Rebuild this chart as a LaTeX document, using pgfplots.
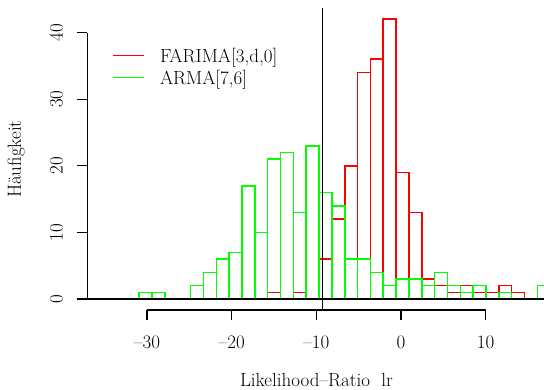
\documentclass[border=0pt]{standalone}
\usepackage{pgfplots}
\pgfplotsset{compat=1.18}
\definecolor{rred}{RGB}{255,0,0}
\definecolor{rgreen}{RGB}{0,255,0}
\begin{document}
\begin{tikzpicture}[font=\fontsize{19}{22}\selectfont]
\begin{axis}[
  anchor=origin, at={(0pt,0pt)},
  x=8.4675pt, y=6.66pt,
  xmin=-37.05, xmax=17.09, ymin=-1.65, ymax=43.65,
  clip=false,
  axis x line*=bottom, axis y line*=left,
  axis line style={draw=none},
  xtick={-30,-20,-10,0,10},
  xticklabels={\textendash30,\textendash20,\textendash10,0,10},
  ytick={0,10,20,30,40},
  yticklabels={0,10,20,30,40},
  tick align=outside,
  major tick length=10.3pt,
  tick style={black, line width=1.2pt},
  tick label style={font=\fontsize{19}{22}\selectfont},
  xticklabel style={anchor=base},
  xticklabel shift=27.8pt,
  yticklabel style={rotate=90, anchor=base},
  yticklabel shift=14.3pt,
  xlabel={Likelihood\textendash Ratio\hspace{0.6em}lr},
  ylabel={Häufigkeit},
  xlabel style={at={([yshift=-76.5pt]axis description cs:0.5,0)}, anchor=base, inner sep=0pt},
  ylabel style={at={([xshift=-66.3pt]axis description cs:0,0.5)}, anchor=base},
  legend image code/.code={\draw[#1, line width=1.6pt] (0pt,6.9pt) -- (31.6pt,6.9pt);},
  legend style={draw=none, fill=none, inner sep=0pt, outer sep=0pt,
    at={(axis cs:-34.15,37.61)}, anchor=north west,
    row sep=0pt, column sep=15pt,
    nodes={inner sep=0pt, text height=14pt, text depth=7.8pt},
    cells={anchor=base west},
    font=\fontsize{19}{22}\selectfont},
]
% red series (FARIMA[3,d,0])
\addplot[ybar interval, draw=rred, fill=none, line width=1.6pt, forget plot] coordinates {
  (-15.742,1) (-14.226,0)};
\addplot[ybar interval, draw=rred, fill=none, line width=1.6pt, forget plot] coordinates {
  (-12.709,1) (-11.193,0)};
\addplot[ybar interval, draw=rred, fill=none, line width=1.6pt, forget plot] coordinates {
  (-9.676,6) (-8.160,12) (-6.644,20) (-5.127,34) (-3.611,36) (-2.094,42)
  (-0.578,19) (0.938,13) (2.455,3) (3.971,2) (5.488,1) (7.004,2) (8.520,1)
  (10.037,1) (11.553,2) (13.070,1) (14.586,0)};
% green series (ARMA[7,6])
\addplot[ybar interval, draw=rgreen, fill=none, line width=1.6pt, forget plot] coordinates {
  (-30.906,1) (-29.390,1) (-27.873,0)};
\addplot[ybar interval, draw=rgreen, fill=none, line width=1.6pt, forget plot] coordinates {
  (-24.840,2) (-23.324,4) (-21.808,6) (-20.291,7) (-18.775,17) (-17.258,10)
  (-15.742,21) (-14.226,22) (-12.709,13) (-11.193,23) (-9.676,16) (-8.160,14)
  (-6.644,6) (-5.127,6) (-3.611,4) (-2.094,2) (-0.578,3) (0.938,3) (2.455,2)
  (3.971,4) (5.488,2) (7.004,1) (8.520,2) (10.037,0)};
\addplot[ybar interval, draw=rgreen, fill=none, line width=1.6pt, forget plot] coordinates {
  (11.553,1) (13.070,0)};
\addplot[ybar interval, draw=rgreen, fill=none, line width=1.6pt, forget plot] coordinates {
  (16.102,2) (17.619,0)};
% reference lines and R-style axis segments
\addplot[black, line width=1.2pt, forget plot] coordinates {(-37.05,0) (17.09,0)};
\addplot[black, line width=1.2pt, forget plot] coordinates {(-9.25,-1.65) (-9.25,43.65)};
\addplot[black, line width=1.2pt, forget plot] coordinates {(-30,-1.65) (10,-1.65)};
\addplot[black, line width=1.2pt, forget plot] coordinates {(-37.05,0) (-37.05,40)};
\addlegendimage{rred}
\addlegendentry{FARIMA[3,d,0]}
\addlegendimage{rgreen}
\addlegendentry{ARMA[7,6]}
\end{axis}
\pgfresetboundingbox
\useasboundingbox (-401pt,-90pt) rectangle (143pt,299pt);
\end{tikzpicture}
\end{document}
